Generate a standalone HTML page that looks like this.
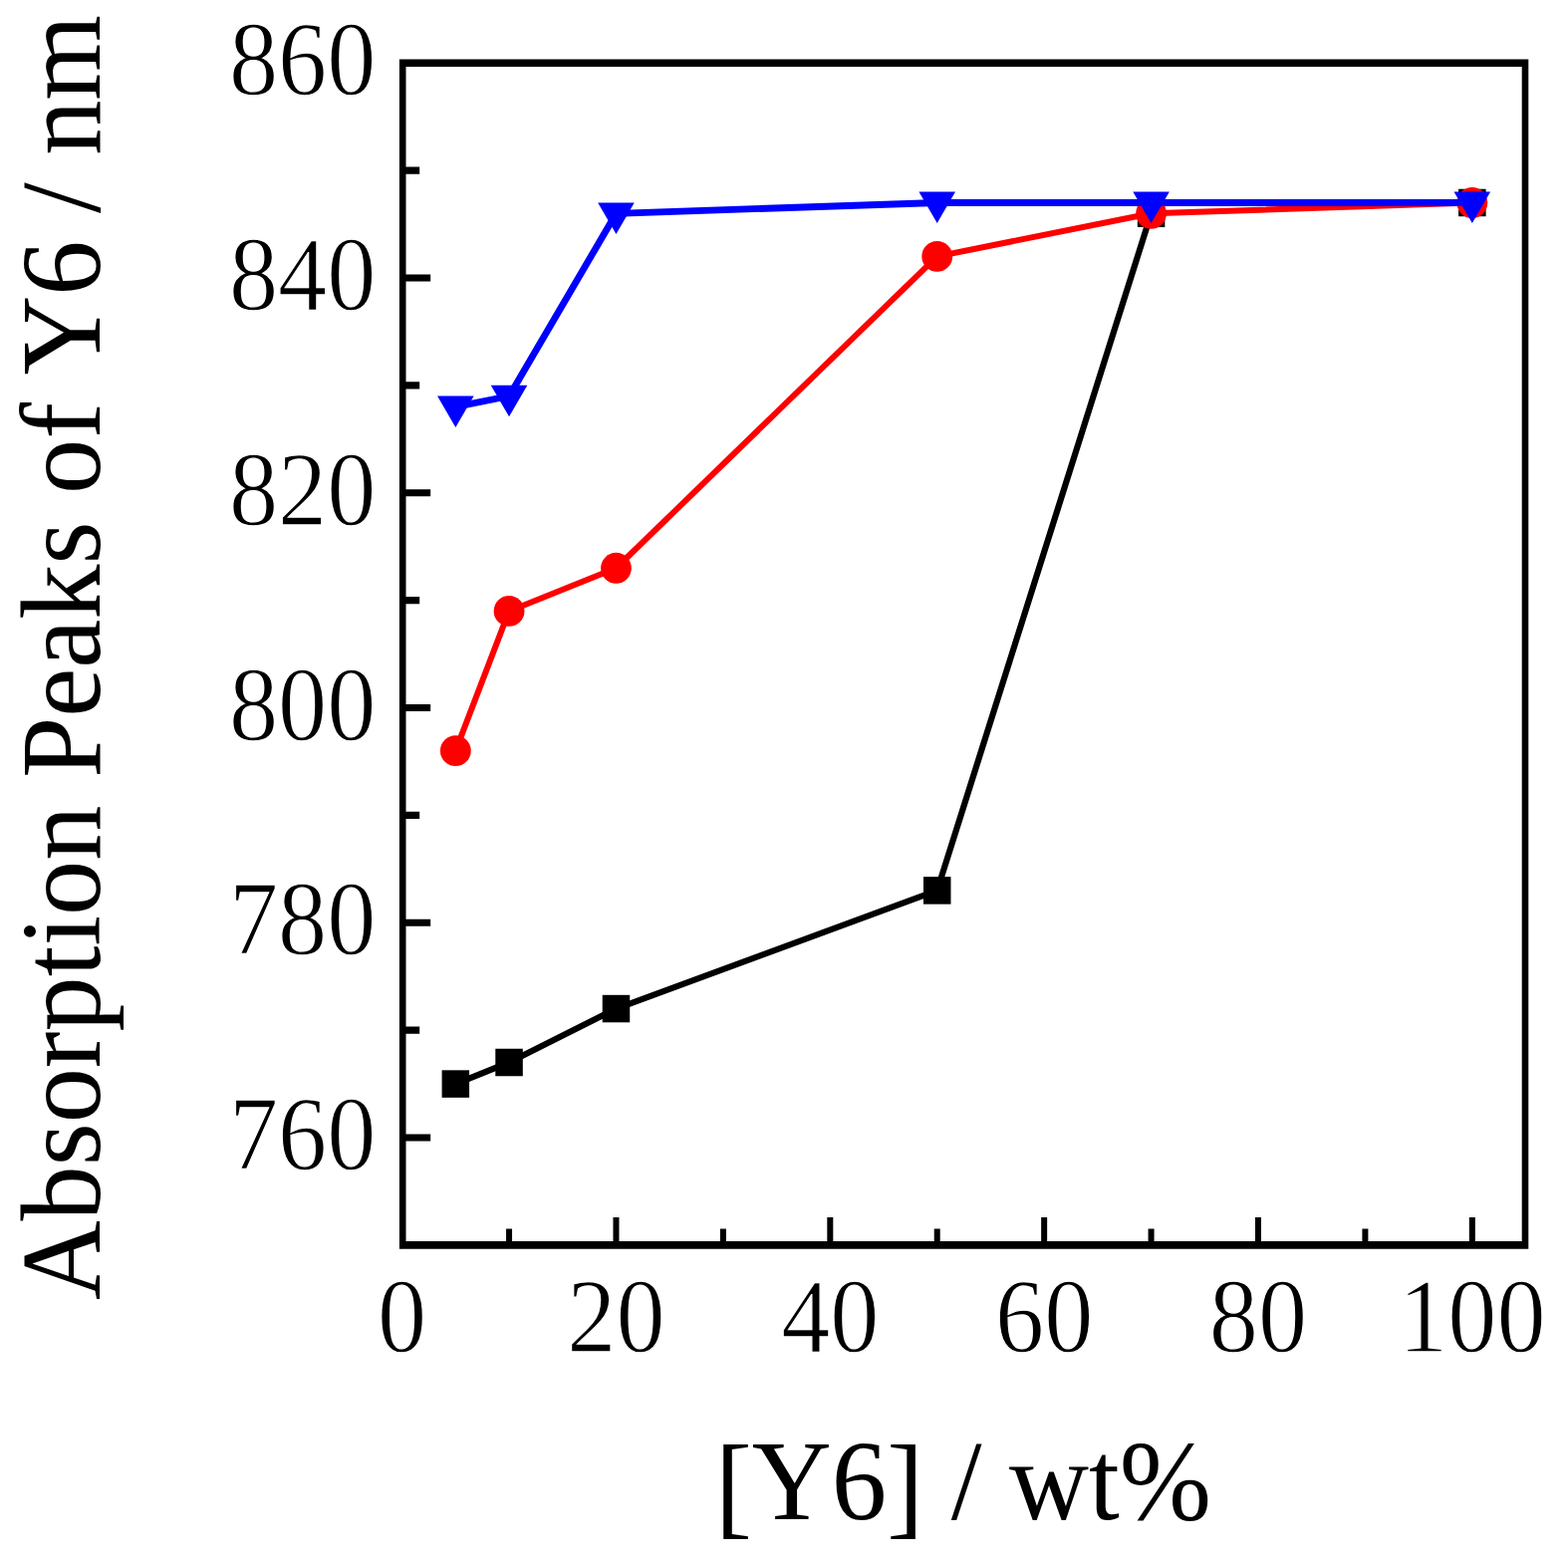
<!DOCTYPE html>
<html><head><meta charset="utf-8"><title>Absorption Peaks of Y6</title>
<style>
html,body{margin:0;padding:0;background:#fff;}
svg{display:block;}
text{font-family:"Liberation Serif","Times New Roman",serif;fill:#000;}
</style></head>
<body>
<svg width="1574" height="1568" viewBox="0 0 1574 1568">
<rect width="1574" height="1568" fill="#fff"/>
<path d="M400.90 59.45H1534.30V1253.69H400.90Z M407.50 67.05V1246.09H1527.70V67.05Z" fill="#000" fill-rule="evenodd"/>
<path d="M404.20 1142.01h28 M404.20 1034.13h17 M404.20 926.26h28 M404.20 818.38h17 M404.20 710.51h28 M404.20 602.63h17 M404.20 494.75h28 M404.20 386.88h17 M404.20 279.00h28 M404.20 171.13h17" stroke="#000" stroke-width="7.2" fill="none"/>
<path d="M511.05 1249.89v-16.5 M618.47 1249.89v-28 M725.89 1249.89v-16.5 M833.31 1249.89v-28 M940.73 1249.89v-16.5 M1048.15 1249.89v-28 M1155.57 1249.89v-16.5 M1262.99 1249.89v-28 M1370.41 1249.89v-16.5 M1477.83 1249.89v-28" stroke="#000" stroke-width="6.0" fill="none"/>
<polyline points="457.34,1088.07 511.05,1066.50 618.47,1012.56 940.73,893.90 1155.57,214.28" fill="none" stroke="#000" stroke-width="6.2" stroke-linejoin="round"/>
<rect x="443.59" y="1074.32" width="27.5" height="27.5" fill="#000"/>
<rect x="497.30" y="1052.75" width="27.5" height="27.5" fill="#000"/>
<rect x="604.72" y="998.81" width="27.5" height="27.5" fill="#000"/>
<rect x="926.98" y="880.15" width="27.5" height="27.5" fill="#000"/>
<rect x="1141.82" y="200.53" width="27.5" height="27.5" fill="#000"/>
<rect x="1464.08" y="189.74" width="27.5" height="27.5" fill="#000"/>
<polyline points="457.34,753.66 511.05,613.42 618.47,570.27 940.73,257.43 1155.57,214.28 1477.83,203.49" fill="none" stroke="#f00" stroke-width="6.0" stroke-linejoin="round"/>
<circle cx="457.34" cy="753.66" r="15.4" fill="#f00"/>
<circle cx="511.05" cy="613.42" r="15.4" fill="#f00"/>
<circle cx="618.47" cy="570.27" r="15.4" fill="#f00"/>
<circle cx="940.73" cy="257.43" r="15.4" fill="#f00"/>
<circle cx="1155.57" cy="214.28" r="15.4" fill="#f00"/>
<circle cx="1477.83" cy="203.49" r="15.4" fill="#f00"/>
<polyline points="457.34,408.45 511.05,397.67 618.47,214.28 940.73,203.49 1155.57,203.49 1477.83,203.49" fill="none" stroke="#00f" stroke-width="6.8" stroke-linejoin="round"/>
<path d="M439.04 397.55H475.64L457.34 429.05Z" fill="#00f"/>
<path d="M492.75 386.77H529.35L511.05 418.27Z" fill="#00f"/>
<path d="M600.17 203.38H636.77L618.47 234.88Z" fill="#00f"/>
<path d="M922.43 192.59H959.03L940.73 224.09Z" fill="#00f"/>
<path d="M1137.27 192.59H1173.87L1155.57 224.09Z" fill="#00f"/>
<path d="M1459.53 192.59H1496.13L1477.83 224.09Z" fill="#00f"/>
<text transform="translate(303.6 1174.01) scale(1 1.082)" text-anchor="middle" font-size="98.3" stroke="#fff" stroke-width="1.2">760</text>
<text transform="translate(303.6 958.26) scale(1 1.082)" text-anchor="middle" font-size="98.3" stroke="#fff" stroke-width="1.2">780</text>
<text transform="translate(303.6 742.51) scale(1 1.082)" text-anchor="middle" font-size="98.3" stroke="#fff" stroke-width="1.2">800</text>
<text transform="translate(303.6 526.75) scale(1 1.082)" text-anchor="middle" font-size="98.3" stroke="#fff" stroke-width="1.2">820</text>
<text transform="translate(303.6 311.00) scale(1 1.082)" text-anchor="middle" font-size="98.3" stroke="#fff" stroke-width="1.2">840</text>
<text transform="translate(303.6 95.25) scale(1 1.082)" text-anchor="middle" font-size="98.3" stroke="#fff" stroke-width="1.2">860</text>
<text transform="translate(403.63 1356.6) scale(1 1.082)" text-anchor="middle" font-size="98.3" stroke="#fff" stroke-width="1.2">0</text>
<text transform="translate(618.47 1356.6) scale(1 1.082)" text-anchor="middle" font-size="98.3" stroke="#fff" stroke-width="1.2">20</text>
<text transform="translate(833.31 1356.6) scale(1 1.082)" text-anchor="middle" font-size="98.3" stroke="#fff" stroke-width="1.2">40</text>
<text transform="translate(1048.15 1356.6) scale(1 1.082)" text-anchor="middle" font-size="98.3" stroke="#fff" stroke-width="1.2">60</text>
<text transform="translate(1262.99 1356.6) scale(1 1.082)" text-anchor="middle" font-size="98.3" stroke="#fff" stroke-width="1.2">80</text>
<text transform="translate(1477.83 1356.6) scale(1 1.082)" text-anchor="middle" font-size="98.3" stroke="#fff" stroke-width="1.2">100</text>
<text transform="translate(99.8 1305.1) rotate(-90) scale(1 1.03)" font-size="110.35" style="font-kerning:none">Absorption Peaks of Y6 / nm</text>
<text transform="translate(718.0 1525.3) scale(1 1.03)" font-size="110.7"><tspan dy="4.5">[</tspan><tspan dy="-4.5">Y6</tspan><tspan dy="4.5">]</tspan><tspan dy="-4.5"> / wt%</tspan></text>
</svg>
</body></html>
